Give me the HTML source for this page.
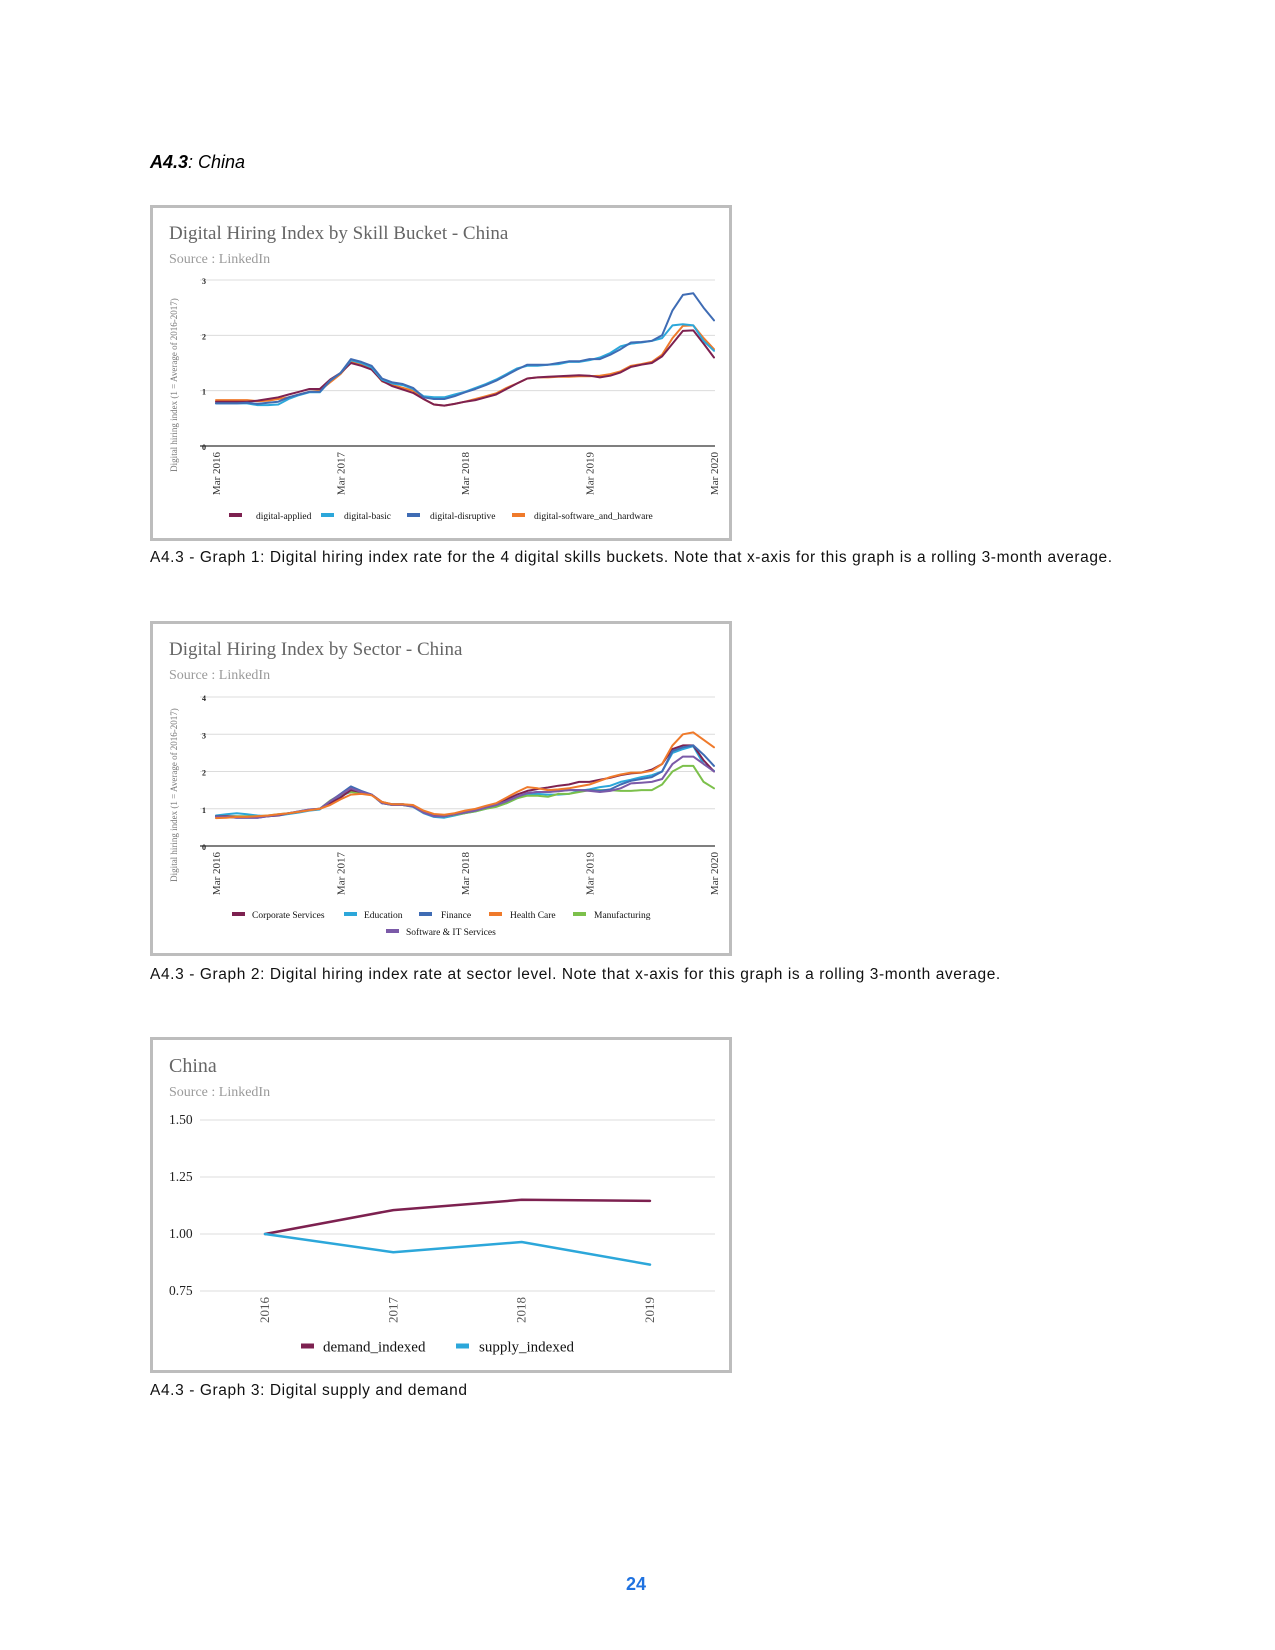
<!DOCTYPE html>
<html><head><meta charset="utf-8">
<style>
html,body{margin:0;padding:0;background:#fff;}
body{width:1275px;height:1650px;position:relative;overflow:hidden;font-family:"Liberation Sans",sans-serif;}
.abs{position:absolute;}
.box{position:absolute;border:3px solid #bdbdbd;box-sizing:border-box;background:#fff;}
.cap{position:absolute;left:150px;font-size:15.5px;color:#111;white-space:nowrap;letter-spacing:0.6px;}
svg text{font-family:"Liberation Serif",serif;}
</style></head>
<body>
<div class="abs" style="left:150px;top:152px;font-size:18px;font-style:italic;color:#000;"><b>A4.3</b>: China</div>

<div class="box" style="left:150px;top:205px;width:582px;height:336px;"></div>
<div class="cap" style="top:549px;">A4.3 - Graph 1: Digital hiring index rate for the 4 digital skills buckets. Note that x-axis for this graph is a rolling 3-month average.</div>

<div class="box" style="left:150px;top:621px;width:582px;height:335px;"></div>
<div class="cap" style="top:966px;">A4.3 - Graph 2: Digital hiring index rate at sector level. Note that x-axis for this graph is a rolling 3-month average.</div>

<div class="box" style="left:150px;top:1037px;width:582px;height:336px;"></div>
<div class="cap" style="top:1382px;">A4.3 - Graph 3: Digital supply and demand</div>

<div class="abs" style="left:626px;top:1574px;font-size:18px;font-weight:bold;color:#1f72e0;">24</div>

<svg id="svg" class="abs" style="left:0;top:0" width="1275" height="1650"></svg>

<script>
// ---- Chart 1 data (monthly, Mar 2016 .. Mar 2020) ----
const c1Ticks = ["Mar 2016","Mar 2017","Mar 2018","Mar 2019","Mar 2020"];
const c1YTicks = [0,1,2,3];
const c1Names = ["digital-applied","digital-basic","digital-disruptive","digital-software_and_hardware"];
const c1Applied = [0.80,0.80,0.80,0.80,0.82,0.85,0.88,0.93,0.98,1.03,1.03,1.20,1.32,1.50,1.45,1.38,1.18,1.08,1.02,0.96,0.85,0.75,0.73,0.76,0.80,0.83,0.88,0.93,1.03,1.13,1.22,1.24,1.25,1.26,1.27,1.28,1.27,1.24,1.27,1.33,1.43,1.47,1.50,1.62,1.85,2.08,2.09,1.85,1.60];
const c1Basic = [0.77,0.77,0.77,0.77,0.74,0.74,0.75,0.85,0.92,0.97,0.97,1.18,1.32,1.55,1.50,1.42,1.20,1.13,1.10,1.03,0.90,0.88,0.88,0.93,0.98,1.05,1.12,1.20,1.30,1.40,1.45,1.45,1.47,1.48,1.52,1.52,1.55,1.60,1.68,1.80,1.85,1.87,1.90,1.95,2.18,2.20,2.18,1.90,1.72];
const c1Disruptive = [0.77,0.77,0.77,0.78,0.76,0.78,0.80,0.88,0.93,0.98,0.98,1.18,1.32,1.57,1.52,1.45,1.22,1.15,1.12,1.05,0.88,0.85,0.85,0.90,0.97,1.03,1.10,1.18,1.28,1.38,1.47,1.47,1.47,1.50,1.53,1.53,1.57,1.57,1.65,1.75,1.87,1.88,1.90,2.00,2.45,2.73,2.76,2.50,2.27];
const c1Software = [0.83,0.83,0.83,0.83,0.81,0.82,0.85,0.88,0.93,0.98,1.00,1.15,1.30,1.52,1.48,1.40,1.17,1.10,1.05,1.00,0.85,0.75,0.73,0.76,0.80,0.85,0.90,0.95,1.05,1.13,1.22,1.24,1.24,1.25,1.25,1.26,1.26,1.27,1.30,1.35,1.45,1.48,1.52,1.65,1.95,2.17,2.18,1.95,1.75];

// ---- Chart 2 data ----
const c2YTicks = [0,1,2,3,4];
const c2Names = ["Corporate Services","Education","Finance","Health Care","Manufacturing","Software & IT Services"];
const c2Corporate = [0.80,0.80,0.78,0.78,0.78,0.80,0.82,0.88,0.92,0.97,1.00,1.15,1.30,1.50,1.45,1.38,1.18,1.12,1.12,1.08,0.92,0.82,0.80,0.85,0.92,0.98,1.05,1.12,1.25,1.38,1.48,1.53,1.57,1.62,1.65,1.72,1.72,1.78,1.83,1.90,1.95,1.97,2.05,2.20,2.60,2.70,2.70,2.30,2.00];
const c2Education = [0.82,0.85,0.88,0.85,0.82,0.80,0.82,0.86,0.90,0.95,0.98,1.18,1.35,1.45,1.45,1.38,1.15,1.10,1.10,1.05,0.88,0.78,0.76,0.82,0.88,0.93,1.00,1.07,1.15,1.28,1.38,1.40,1.38,1.38,1.40,1.48,1.52,1.58,1.62,1.72,1.78,1.85,1.90,2.00,2.50,2.60,2.68,2.20,2.02];
const c2Finance = [0.80,0.78,0.76,0.76,0.76,0.80,0.84,0.88,0.93,0.98,1.00,1.20,1.40,1.60,1.48,1.38,1.15,1.12,1.12,1.08,0.90,0.80,0.80,0.85,0.90,0.95,1.03,1.10,1.20,1.32,1.42,1.45,1.45,1.48,1.50,1.50,1.50,1.48,1.52,1.65,1.75,1.80,1.85,2.00,2.55,2.65,2.70,2.45,2.15];
const c2Health = [0.75,0.76,0.78,0.78,0.80,0.82,0.85,0.88,0.92,0.96,1.00,1.10,1.25,1.38,1.40,1.36,1.18,1.12,1.12,1.10,0.95,0.86,0.84,0.88,0.95,1.00,1.08,1.15,1.30,1.45,1.58,1.55,1.50,1.52,1.55,1.60,1.65,1.75,1.85,1.92,1.97,1.97,2.02,2.20,2.70,3.00,3.05,2.85,2.65];
const c2Manufacturing = [0.80,0.80,0.80,0.80,0.80,0.82,0.85,0.88,0.92,0.97,1.00,1.22,1.38,1.45,1.42,1.38,1.15,1.10,1.10,1.06,0.90,0.82,0.80,0.84,0.88,0.93,1.00,1.05,1.15,1.28,1.35,1.35,1.32,1.40,1.40,1.45,1.50,1.50,1.50,1.48,1.48,1.50,1.50,1.65,2.00,2.15,2.15,1.72,1.55];
const c2Software = [0.78,0.78,0.76,0.76,0.76,0.80,0.83,0.88,0.93,0.98,1.00,1.20,1.38,1.55,1.45,1.38,1.15,1.10,1.10,1.06,0.90,0.80,0.80,0.85,0.90,0.95,1.03,1.10,1.20,1.32,1.42,1.45,1.45,1.47,1.50,1.50,1.48,1.45,1.48,1.55,1.68,1.70,1.72,1.80,2.20,2.40,2.40,2.20,2.00];

// ---- Chart 3 data ----
const c3Years = ["2016","2017","2018","2019"];
const c3YTicks = [0.75,1.00,1.25,1.50];
const c3Demand = [1.00,1.105,1.15,1.145];
const c3Supply = [1.00,0.92,0.965,0.866];

const NS="http://www.w3.org/2000/svg";
const svg=document.getElementById('svg');
function mk(tag,attrs,parent){const e=document.createElementNS(NS,tag);for(const k in attrs)e.setAttribute(k,attrs[k]);(parent||svg).appendChild(e);return e;}

function lineChart(o){
  const g=mk('g',{});
  
  
  const sx=i=>o.x0+(o.x1-o.x0)*(i-o.imin)/(o.imax-o.imin);
  const sy=v=>o.y0-(o.y0-o.y1)*(v-o.vmin)/(o.vmax-o.vmin);
  const t=mk('text',{x:169,y:o.titleY,'font-size':o.titleSize,fill:'#666'},g);t.textContent=o.title;
  
  
  const s=mk('text',{x:169,y:o.titleY+24,'font-size':14,fill:'#9a9a9a'},g);s.textContent='Source : LinkedIn';
  
  
  o.yTicks.forEach(v=>{
    const y=sy(v);
    const ln=mk('line',{x1:o.gx0,x2:o.gx1,y1:y,y2:y,stroke:(v===o.vmin&&o.axisDark)?'#333':'#dcdcdc','stroke-width':(v===o.vmin&&o.axisDark)?1.3:1},g);
    
    
    const tl=mk('text',{x:o.tickX,y:y+4,'font-size':o.tickSize,fill:'#222','text-anchor':o.tickAnchor,'font-weight':o.tickBold?'bold':'normal'},g);
    tl.textContent=o.tickFmt(v);
    
    
  });
  if(o.yTitle){
    const yt=mk('text',{x:0,y:0,'font-size':9,fill:'#777','text-anchor':'middle',transform:`translate(${o.yTitleX},${o.yTitleY}) rotate(-90)`},g);
    yt.textContent=o.yTitle;
    
    
  }
  o.xLabels.forEach(([i,lab])=>{
    const x=sx(i);
    const xl=mk('text',{x:0,y:0,'font-size':o.xSize,fill:o.xColor,'text-anchor':'end',transform:`translate(${x+4},${o.xLabY}) rotate(-90)`},g);
    xl.textContent=lab;
    
    
  });
  o.series.forEach(se=>{
    const d=se.values.map((v,i)=>(i?'L':'M')+sx(i).toFixed(1)+','+sy(v).toFixed(1)).join(' ');
    const p=mk('path',{d:d,fill:'none',stroke:se.color,'stroke-width':o.lw,'stroke-linejoin':'round','stroke-linecap':'round'},g);
    
    
  });
  o.legend.forEach(([mx,tx,y,color,label])=>{
    const r=mk('rect',{x:mx,y:y-o.legH/2-1,width:o.legW,height:o.legH,fill:color},g);
    
    
    const lt=mk('text',{x:tx,y:y+o.legFont*0.3,'font-size':o.legFont,fill:'#111'},g);
    lt.textContent=label;
    
    
  });
}

const months=[0,12,24,36,48];
lineChart({id:'chart-skill-bucket',title:'Digital Hiring Index by Skill Bucket - China',titleY:239,titleSize:19,
  x0:216,x1:714,imin:0,imax:48,y0:446,y1:280,vmin:0,vmax:3,gx0:200,gx1:715,axisDark:true,
  yTicks:c1YTicks,tickX:206,tickSize:8,tickAnchor:'end',tickBold:true,tickFmt:v=>String(v),
  yTitle:'Digital hiring index (1 = Average of 2016-2017)',yTitleX:177,yTitleY:385,
  xLabels:months.map((m,k)=>[m,c1Ticks[k]]),xLabY:452,xSize:11,xColor:'#333',lw:2,
  series:[{key:'digital-software',values:c1Software,color:'#ef7a2b'},{key:'digital-applied',values:c1Applied,color:'#7d2150'},{key:'digital-basic',values:c1Basic,color:'#2ca7da'},{key:'digital-disruptive',values:c1Disruptive,color:'#3f6cb4'}],
  legend:[[229,256,516,'#7d2150',c1Names[0]],[321,344,516,'#2ca7da',c1Names[1]],[407,430,516,'#3f6cb4',c1Names[2]],[512,534,516,'#ef7a2b',c1Names[3]]],
  legW:13,legH:4,legFont:9.5
});

lineChart({id:'chart-sector',title:'Digital Hiring Index by Sector - China',titleY:655,titleSize:19,
  x0:216,x1:714,imin:0,imax:48,y0:846,y1:697,vmin:0,vmax:4,gx0:200,gx1:715,axisDark:true,
  yTicks:c2YTicks,tickX:206,tickSize:8,tickAnchor:'end',tickBold:true,tickFmt:v=>String(v),
  yTitle:'Digital hiring index (1 = Average of 2016-2017)',yTitleX:177,yTitleY:795,
  xLabels:months.map((m,k)=>[m,c1Ticks[k]]),xLabY:852,xSize:11,xColor:'#333',lw:2,
  series:[{key:'education',values:c2Education,color:'#2ca7da'},{key:'manufacturing',values:c2Manufacturing,color:'#7cc04b'},{key:'corporate-services',values:c2Corporate,color:'#7d2150'},{key:'finance',values:c2Finance,color:'#3f6cb4'},{key:'software-it',values:c2Software,color:'#7b5aa8'},{key:'health-care',values:c2Health,color:'#ef7a2b'}],
  legend:[[232,252,915,'#7d2150',c2Names[0]],[344,364,915,'#2ca7da',c2Names[1]],[419,441,915,'#3f6cb4',c2Names[2]],[489,510,915,'#ef7a2b',c2Names[3]],[573,594,915,'#7cc04b',c2Names[4]],[386,406,932,'#7b5aa8',c2Names[5]]],
  legW:13,legH:4,legFont:9.5
});

lineChart({id:'chart-supply-demand',title:'China',titleY:1072,titleSize:20,
  x0:265,x1:650,imin:0,imax:3,y0:1291,y1:1120,vmin:0.75,vmax:1.5,gx0:200,gx1:715,axisDark:false,
  yTicks:c3YTicks,tickX:169,tickSize:13.5,tickAnchor:'start',tickBold:false,tickFmt:v=>v.toFixed(2),
  yTitle:null,
  xLabels:c3Years.map((y,i)=>[i,y]),xLabY:1297,xSize:13,xColor:'#555',lw:2.5,
  series:[{key:'demand-indexed',values:c3Demand,color:'#7d2150'},{key:'supply-indexed',values:c3Supply,color:'#2ca7da'}],
  legend:[[301,323,1347,'#7d2150','demand_indexed'],[456,479,1347,'#2ca7da','supply_indexed']],
  legW:13,legH:5,legFont:15
});
</script>
</body></html>
